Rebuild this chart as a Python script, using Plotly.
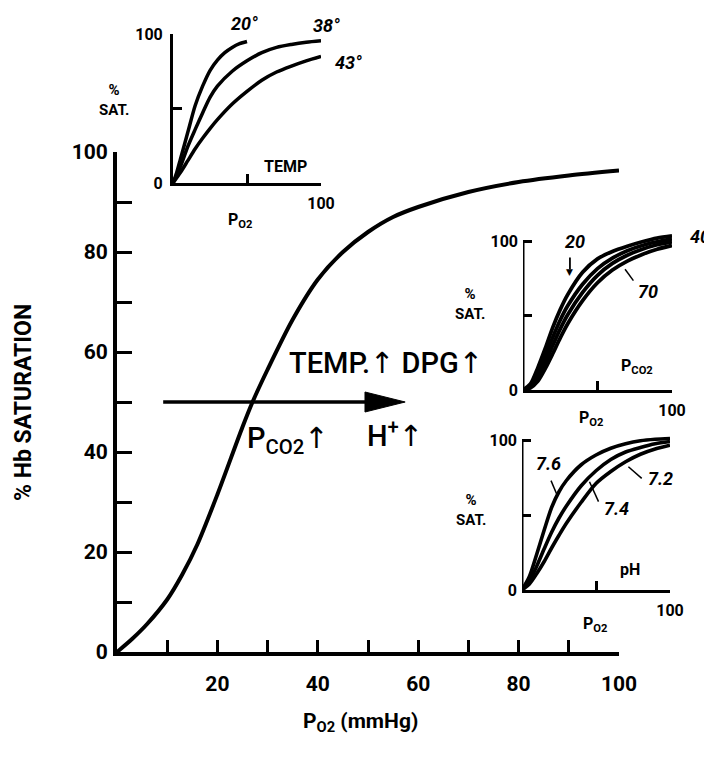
import plotly.graph_objects as go

# ---------------- data ----------------
MAIN_PO2 = [0, 3, 6, 10, 13, 16, 20, 25, 27, 30, 35, 40, 45, 50, 55, 60, 70, 80, 90, 100]
MAIN_SAT = [0, 2.6, 5.6, 10.5, 15.5, 21.5, 31.5, 45, 50, 56.5, 66.5, 74.5, 80, 84, 87, 89, 92, 94, 95.3, 96.3]

TEMP_PO2_20 = [0, 2.5, 5, 10, 15, 20, 25, 30, 35, 40, 45, 50]
TEMP_SAT_20 = [0, 7, 16, 34, 52, 65, 75.5, 82.5, 87.5, 91, 93.5, 95]
TEMP_PO2 = [0, 5, 10, 15, 20, 25, 30, 40, 50, 60, 70, 80, 90, 100]
TEMP_SAT_38 = [0, 11, 24.5, 36, 47, 57.5, 65, 75, 82, 87.5, 91, 93, 94.5, 95.5]
TEMP_SAT_43 = [0, 7, 15, 23, 30, 36.5, 42.5, 53, 61.5, 69, 74.5, 78.5, 82, 85]
TEMP_LABELS = ["20°", "38°", "43°"]

PCO2_PO2 = [0, 5, 10, 15, 20, 25, 30, 40, 50, 60, 70, 80, 90, 100]
PCO2_SAT_A = [0, 4, 15, 28, 42, 54, 64, 79, 88, 93, 96.5, 99.5, 102, 103.5]
PCO2_SAT_B = [0, 3, 11.5, 23, 35.5, 47, 56.5, 71, 81.5, 88.5, 93.5, 97, 99.5, 101.5]
PCO2_SAT_C = [0, 2, 8.5, 18.5, 30, 41, 50.5, 65.5, 77, 85, 90.5, 94.5, 97.5, 99.5]
PCO2_SAT_D = [0, 1.5, 6, 14.5, 24.5, 35, 44.5, 60, 72, 80.5, 86.5, 91, 94.5, 97]
PCO2_LABELS = ["20", "40", "70"]

PH_PO2 = [0, 5, 10, 15, 20, 25, 30, 40, 50, 60, 70, 80, 90, 100]
PH_SAT_76 = [0, 9, 24, 40, 55, 65.5, 73, 83.5, 90, 94.5, 97.5, 99.5, 100.5, 101]
PH_SAT_74 = [0, 6, 16, 27.5, 38.5, 48, 56, 69.5, 79.5, 87, 92, 95, 97.5, 99]
PH_SAT_72 = [0, 4, 11, 19, 28, 36.5, 44.5, 58.5, 71, 79, 85.5, 90.5, 94, 96.5]
PH_LABELS = ["7.6", "7.4", "7.2"]

MAIN_X_LABELS = [20, 40, 60, 80, 100]
MAIN_Y_LABELS = [0, 20, 40, 60, 80, 100]
MAIN_MINOR = [0, 10, 20, 30, 40, 50, 60, 70, 80, 90, 100]
INSET_X_LABELS = [100]
INSET_Y_LABELS = [0, 100]
INSET_MINOR = [50, 100]

ARROW_X = [9.2, 57.4]
ARROW_Y = 50
HEAD_LEN = 8
HEAD_HALF = 2

FONT = "Roboto, DejaVu Sans, Liberation Sans, sans-serif"
BLACK = "#000000"
W, H = 704, 758


def px(x0, x1):
    return [x0 / W, x1 / W]


def py(ybot, ytop):
    return [1 - ybot / H, 1 - ytop / H]


# axis geometry (domain in paper units, range in data units)
AX = {
    "1": dict(xd=px(117, 619), xr=[0, 100], yd=py(652, 152), yr=[0, 100]),
    "2": dict(xd=px(173, 321), xr=[0, 100], yd=py(183, 34), yr=[0, 100]),
    "3": dict(xd=px(523, 672), xr=[0, 100], yd=py(390, 390 - 108 * 1.49), yr=[0, 108]),
    "4": dict(xd=px(522, 670), xr=[0, 100], yd=py(590, 590 - 108 * 1.5), yr=[0, 108]),
}


def to_paper(k, x, y):
    a = AX[k]
    fx = a["xd"][0] + (x - a["xr"][0]) / (a["xr"][1] - a["xr"][0]) * (a["xd"][1] - a["xd"][0])
    fy = a["yd"][0] + (y - a["yr"][0]) / (a["yr"][1] - a["yr"][0]) * (a["yd"][1] - a["yd"][0])
    return fx, fy


fig = go.Figure()


def line(x, y, xa, ya, w=3.5):
    fig.add_trace(go.Scatter(x=x, y=y, xaxis=xa, yaxis=ya, mode="lines",
                             line=dict(color=BLACK, width=w, shape="spline", smoothing=0.8),
                             hoverinfo="skip", showlegend=False))


# main curve
line(MAIN_PO2, MAIN_SAT, "x", "y", 4)
# arrow
fig.add_trace(go.Scatter(x=[ARROW_X[0], ARROW_X[1] - HEAD_LEN + 1], y=[ARROW_Y, ARROW_Y],
                         mode="lines", line=dict(color=BLACK, width=3.5),
                         hoverinfo="skip", showlegend=False))
fig.add_trace(go.Scatter(x=[ARROW_X[1], ARROW_X[1] - HEAD_LEN, ARROW_X[1] - HEAD_LEN, ARROW_X[1]],
                         y=[ARROW_Y, ARROW_Y + HEAD_HALF, ARROW_Y - HEAD_HALF, ARROW_Y],
                         mode="lines", fill="toself", fillcolor=BLACK,
                         line=dict(color=BLACK, width=1), hoverinfo="skip", showlegend=False))

# insets
line(TEMP_PO2_20, TEMP_SAT_20, "x2", "y2", 3.5)
line(TEMP_PO2, TEMP_SAT_38, "x2", "y2", 3.5)
line(TEMP_PO2, TEMP_SAT_43, "x2", "y2", 3.5)
for s in [PCO2_SAT_A, PCO2_SAT_B, PCO2_SAT_C, PCO2_SAT_D]:
    line(PCO2_PO2, s, "x3", "y3", 3.8)
for s in [PH_SAT_76, PH_SAT_74, PH_SAT_72]:
    line(PH_PO2, s, "x4", "y4", 3.6)

main_tick_font = dict(family=FONT, size=21, color=BLACK, weight="bold")
inset_tick_font = dict(family=FONT, size=16, color=BLACK, weight="bold")

common = dict(showgrid=False, zeroline=False, ticks="inside", tickcolor=BLACK,
              linecolor=BLACK, automargin=False)


def inset_axes(k, showyline):
    a = AX[k]
    minor = dict(tickvals=INSET_MINOR, ticks="inside", ticklen=9, tickwidth=2.5, tickcolor=BLACK,
                 showgrid=False)
    xa = dict(domain=a["xd"], range=a["xr"], anchor="y" + k, showline=True, linewidth=3,
              tickmode="array", tickvals=INSET_X_LABELS, ticklen=9, tickwidth=2.5,
              tickfont=inset_tick_font, ticklabelstandoff=4, minor=minor, **common)
    ya = dict(domain=a["yd"], range=a["yr"], anchor="x" + k, showline=showyline, linewidth=3,
              tickmode="array", tickvals=INSET_Y_LABELS, ticklen=9, tickwidth=2.5,
              tickfont=inset_tick_font, ticklabelstandoff=4, minor=minor, **common)
    return xa, ya


x2, y2 = inset_axes("2", True)
x3, y3 = inset_axes("3", False)
x4, y4 = inset_axes("4", False)

main_minor_x = dict(tickvals=MAIN_MINOR, ticks="inside", ticklen=12, tickwidth=3,
                    tickcolor=BLACK, showgrid=False)
main_minor_y = dict(tickvals=MAIN_MINOR, ticks="inside", ticklen=15, tickwidth=3,
                    tickcolor=BLACK, showgrid=False)

layout_axes = dict(
    xaxis=dict(domain=AX["1"]["xd"], range=AX["1"]["xr"], anchor="y", showline=True, linewidth=4,
               tickmode="array", tickvals=MAIN_X_LABELS, ticklen=12, tickwidth=3,
               tickfont=main_tick_font, ticklabelstandoff=10, minor=main_minor_x, **common),
    yaxis=dict(domain=AX["1"]["yd"], range=AX["1"]["yr"], anchor="x", showline=True, linewidth=4,
               tickmode="array", tickvals=MAIN_Y_LABELS, ticklen=15, tickwidth=3,
               tickfont=main_tick_font, ticklabelstandoff=1, minor=main_minor_y, **common),
    xaxis2=x2, yaxis2=y2, xaxis3=x3, yaxis3=y3, xaxis4=x4, yaxis4=y4,
)

shapes = [
    dict(type="line", xref="x3", yref="y3", x0=0, y0=0, x1=0, y1=100,
         line=dict(color=BLACK, width=3)),
    dict(type="line", xref="x4", yref="y4", x0=0, y0=0, x1=0, y1=100,
         line=dict(color=BLACK, width=3)),
    # leader lines
    dict(type="line", xref="x3", yref="y3", x0=68.5, y0=81, x1=74.1, y1=73.4,
         line=dict(color=BLACK, width=1.5)),
    dict(type="line", xref="x4", yref="y4", x0=19.6, y0=72.9, x1=24, y1=62.7,
         line=dict(color=BLACK, width=1.5)),
    dict(type="line", xref="x4", yref="y4", x0=51.7, y0=58.9, x1=45.6, y1=72.2,
         line=dict(color=BLACK, width=1.5)),
    dict(type="line", xref="x4", yref="y4", x0=80.9, y0=74.4, x1=71.9, y1=82.2,
         line=dict(color=BLACK, width=1.5)),
    # small arrow shaft above the "20" curve
    dict(type="line", xref="x3", yref="y3", x0=31.5, y0=89, x1=31.5, y1=81,
         line=dict(color=BLACK, width=1.8)),
]


def ann(text, x, y, size=16, xanchor="center", yanchor="middle", weight="bold", angle=0):
    return dict(text=text, x=x, y=y, xref="paper", yref="paper", showarrow=False,
                xanchor=xanchor, yanchor=yanchor, textangle=angle,
                font=dict(family=FONT, size=size, color=BLACK, weight=weight))


def dann(k, text, x, y, **kw):
    fx, fy = to_paper(k, x, y)
    return ann(text, fx, fy, **kw)


annotations = [
    # main titles
    ann("% Hb SATURATION", 23 / W, 1 - 403 / H, size=23, angle=-90),
    ann("P<sub>O2</sub> (mmHg)", 360 / W, 1 - 722 / H, size=21),
    # main curve text
    dann("1", "TEMP.↑ DPG↑", 53.6, 57.8, size=29, weight=500),
    dann("1", "P<sub>CO2</sub>↑", 25.5, 42.5, size=29, xanchor="left", weight=500),
    dann("1", "H<sup>+</sup>↑", 49.4, 43.6, size=29, xanchor="left", weight=500),
    # top inset
    dann("2", "<i>" + TEMP_LABELS[0] + "</i>", 48, 107, size=18),
    dann("2", "<i>" + TEMP_LABELS[1] + "</i>", 103.5, 106, size=18),
    dann("2", "<i>" + TEMP_LABELS[2] + "</i>", 108, 81, size=18, xanchor="left"),
    dann("2", "TEMP", 75.7, 11, size=16),
    dann("2", "P<sub>O2</sub>", 45, -25.5, size=16),
    ann("%<br>SAT.", 114 / W, 1 - 100 / H, size=15),
    # PCO2 inset
    dann("3", "<i>" + PCO2_LABELS[0] + "</i>", 34.8, 99.5, size=18),
    dann("3", "<i>" + PCO2_LABELS[1] + "</i>", 111, 102.7, size=18, xanchor="left"),
    dann("3", "<i>" + PCO2_LABELS[2] + "</i>", 84, 66, size=18),
    dann("3", "▼", 31.5, 79.5, size=9, weight="normal"),
    dann("3", "P<sub>CO2</sub>", 76.4, 15.7, size=16),
    dann("3", "P<sub>O2</sub>", 45.5, -19, size=16),
    ann("%<br>SAT.", 470 / W, 1 - 304 / H, size=15),
    # pH inset
    dann("4", "<i>" + PH_LABELS[0] + "</i>", 18, 84.5, size=18),
    dann("4", "<i>" + PH_LABELS[1] + "</i>", 63.6, 54.4, size=18),
    dann("4", "<i>" + PH_LABELS[2] + "</i>", 93.3, 74.4, size=18),
    dann("4", "pH", 73, 13.8, size=16),
    dann("4", "P<sub>O2</sub>", 49.4, -22.7, size=16),
    ann("%<br>SAT.", 471 / W, 1 - 510 / H, size=15),
]

fig.update_layout(
    width=W, height=H, margin=dict(l=0, r=0, t=0, b=0, autoexpand=False),
    paper_bgcolor="white", plot_bgcolor="rgba(0,0,0,0)",
    showlegend=False, shapes=shapes, annotations=annotations,
    font=dict(family=FONT, color=BLACK),
    **layout_axes,
)

fig.write_html("out.html", config={"displayModeBar": False},
               post_script="document.body.style.margin='0px';document.body.style.overflow='hidden';")
